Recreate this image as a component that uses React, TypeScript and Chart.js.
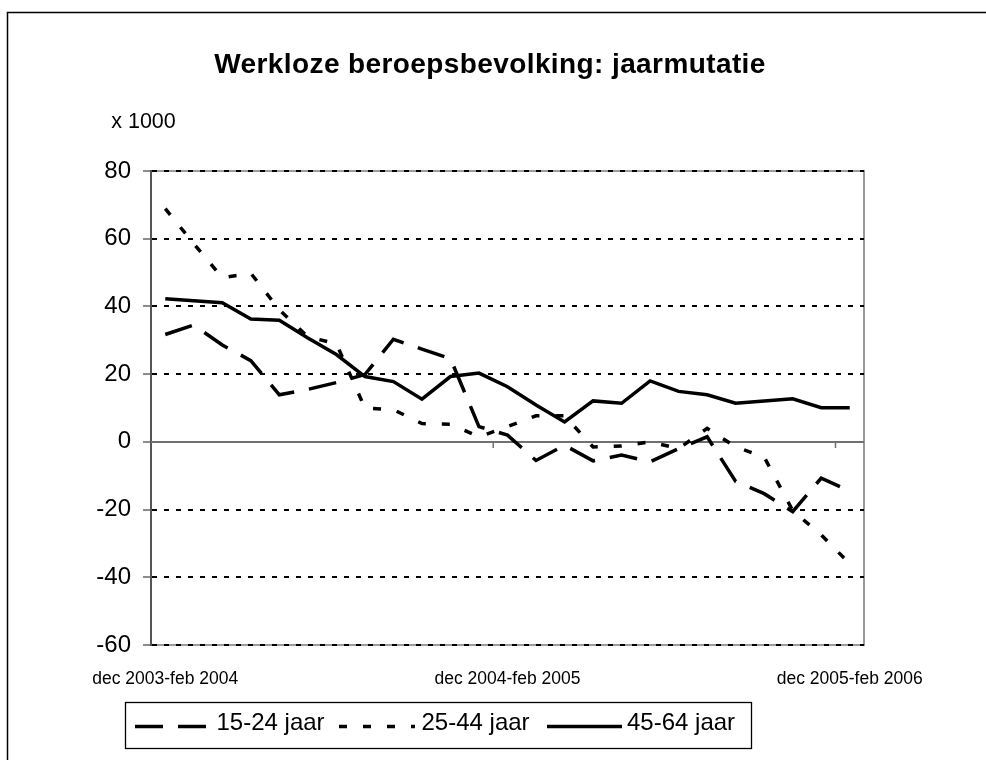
import React, { useEffect, useRef } from 'react';
import { Chart, registerables } from 'chart.js';

Chart.register(...registerables);

const chartTitle = 'Werkloze beroepsbevolking: jaarmutatie';
const unitLabel = 'x 1000';

const categories = [
  'dec 2003-feb 2004', 'jan-mrt 2004', 'feb-apr 2004', 'mrt-mei 2004', 'apr-jun 2004',
  'mei-jul 2004', 'jun-aug 2004', 'jul-sep 2004', 'aug-okt 2004', 'sep-nov 2004',
  'okt-dec 2004', 'nov 2004-jan 2005', 'dec 2004-feb 2005', 'jan-mrt 2005', 'feb-apr 2005',
  'mrt-mei 2005', 'apr-jun 2005', 'mei-jul 2005', 'jun-aug 2005', 'jul-sep 2005',
  'aug-okt 2005', 'sep-nov 2005', 'okt-dec 2005', 'nov 2005-jan 2006', 'dec 2005-feb 2006',
];

const seriesNames = ['15-24 jaar', '25-44 jaar', '45-64 jaar'];

const values1524 = [
  31.7, 34.5, 28.6, 24.0, 13.9, 15.5, 17.5, 19.9, 30.3, 27.4,
  24.6, 4.5, 2.0, -5.5, -1.0, -5.6, -3.9, -5.9, -2.0, 1.5,
  -11.7, -15.3, -20.6, -10.7, -14.5,
];

const values2544 = [
  68.9, 58.5, 48.5, 49.8, 39.0, 31.0, 29.0, 10.0, 9.5, 5.4,
  5.2, 1.5, 4.5, 7.7, 7.7, -1.5, -1.2, 0.0, -2.0, 4.0,
  -1.5, -4.5, -20.3, -27.5, -36.0,
];

const values4564 = [
  42.3, 41.7, 41.1, 36.3, 35.9, 30.7, 25.8, 19.3, 17.8, 12.6,
  19.3, 20.3, 16.3, 10.9, 5.9, 12.1, 11.4, 18.0, 14.9, 13.9,
  11.4, 12.1, 12.7, 10.1, 10.1,
];

const yMin = -60;
const yMax = 80;
const yStep = 20;
const labelEvery = 12;

const FONT = '"Liberation Sans", Arial, Helvetica, sans-serif';

const decorPlugin = {
  id: 'decor',
  beforeDraw(chart: any) {
    const { ctx, chartArea: a } = chart;
    ctx.save();
    // outer frame (left + top)
    ctx.strokeStyle = '#000';
    ctx.lineWidth = 1.5;
    ctx.beginPath();
    ctx.moveTo(7.5, 760);
    ctx.lineTo(7.5, 12.5);
    ctx.lineTo(986, 12.5);
    ctx.stroke();
    // plot area border
    ctx.strokeStyle = '#9a9a9a';
    ctx.lineWidth = 2;
    ctx.strokeRect(a.left, a.top, a.right - a.left, a.bottom - a.top);
    ctx.restore();
  },
  beforeDatasetsDraw(chart: any) {
    const { ctx, chartArea: a, scales } = chart;
    const x = scales.x;
    const y0 = Math.round(scales.y.getPixelForValue(0));
    ctx.save();
    ctx.strokeStyle = '#707070';
    ctx.lineWidth = 2;
    ctx.beginPath();
    ctx.moveTo(a.left, y0);
    ctx.lineTo(a.right, y0);
    ctx.stroke();
    // category tick marks on the zero axis
    const n = categories.length;
    const half = (x.getPixelForValue(1) - x.getPixelForValue(0)) / 2;
    ctx.lineWidth = 1.5;
    for (let i = labelEvery; i < n; i += labelEvery) {
      const px = x.getPixelForValue(i) - half;
      ctx.beginPath();
      ctx.moveTo(px, y0);
      ctx.lineTo(px, y0 + 6);
      ctx.stroke();
    }
    ctx.restore();
  },
  afterDraw(chart: any) {
    const { ctx } = chart;
    ctx.save();
    // title
    ctx.fillStyle = '#000';
    ctx.font = `bold 28px ${FONT}`;
    try { (ctx as any).letterSpacing = '0.4px'; } catch (e) { /* ignore */ }
    ctx.textAlign = 'center';
    ctx.textBaseline = 'middle';
    ctx.fillText(chartTitle, 490, 65.5);
    try { (ctx as any).letterSpacing = '0px'; } catch (e) { /* ignore */ }

    ctx.font = `21.5px ${FONT}`;
    ctx.fillText(unitLabel, 143.5, 122.5);

    // legend
    ctx.strokeStyle = '#000';
    ctx.lineWidth = 1.3;
    ctx.strokeRect(125.5, 702.5, 626, 46);
    const slots = [
      { x0: 135, x1: 207, tx: 216.5 },
      { x0: 339, x1: 415, tx: 421.5 },
      { x0: 547, x1: 622, tx: 627 },
    ];
    chart.data.datasets.forEach((ds: any, i: number) => {
      const s = slots[i];
      ctx.save();
      ctx.strokeStyle = ds.borderColor;
      ctx.lineWidth = ds.borderWidth;
      ctx.lineCap = 'butt';
      ctx.setLineDash(ds.borderDash || []);
      ctx.beginPath();
      ctx.moveTo(s.x0, 726.5);
      ctx.lineTo(s.x1, 726.5);
      ctx.stroke();
      ctx.restore();
      ctx.fillStyle = '#000';
      ctx.font = `24px ${FONT}`;
      ctx.textAlign = 'left';
      ctx.textBaseline = 'middle';
      ctx.fillText(ds.label, s.tx, 723.5);
    });
    ctx.restore();
  },
};

export default function App() {
  const ref = useRef<HTMLCanvasElement | null>(null);

  useEffect(() => {
    if (!ref.current) return;
    const chart = new Chart(ref.current, {
      type: 'line',
      data: {
        labels: categories,
        datasets: [
          {
            label: seriesNames[0],
            data: values1524,
            borderColor: '#000',
            borderWidth: 3.5,
            borderDash: [28, 15],
            pointRadius: 0,
            fill: false,
            tension: 0,
          },
          {
            label: seriesNames[1],
            data: values2544,
            borderColor: '#000',
            borderWidth: 3.5,
            borderDash: [8, 16],
            pointRadius: 0,
            fill: false,
            tension: 0,
          },
          {
            label: seriesNames[2],
            data: values4564,
            borderColor: '#000',
            borderWidth: 3.5,
            pointRadius: 0,
            fill: false,
            tension: 0,
          },
        ],
      },
      options: {
        responsive: false,
        animation: false,
        events: [],
        layout: { padding: { left: 0, right: 122, top: 171, bottom: 0 } },
        plugins: {
          legend: { display: false },
          tooltip: { enabled: false },
          title: { display: false },
        },
        scales: {
          x: {
            type: 'category',
            offset: true,
            grid: { display: false },
            border: { display: false },
            ticks: {
              autoSkip: false,
              maxRotation: 0,
              padding: 15.5,
              color: '#000',
              font: { family: FONT, size: 17.5 },
              callback: function (this: any, value: any, index: number) {
                return index % labelEvery === 0 ? this.getLabelForValue(value) : '';
              },
            },
            afterFit: (s: any) => {
              s.height = 115;
            },
          },
          y: {
            min: yMin,
            max: yMax,
            ticks: {
              stepSize: yStep,
              padding: 12,
              color: '#000',
              font: { family: FONT, size: 24 },
            },
            grid: {
              color: (c: any) => (c.tick && c.tick.value === 0 ? 'rgba(0,0,0,0)' : '#000'),
              lineWidth: 2,
              drawTicks: true,
              tickLength: 8,
              tickColor: '#666',
              tickWidth: 1.5,
              tickBorderDash: [],
            },
            border: { display: true, color: '#555', width: 2, dash: [5, 7] },
            afterFit: (s: any) => {
              s.width = 151;
            },
          },
        },
      },
      plugins: [decorPlugin],
    });
    return () => chart.destroy();
  }, []);

  return (
    <div style={{ position: 'absolute', left: 0, top: 0, width: 986, height: 760 }}>
      <canvas ref={ref} width={986} height={760} style={{ display: 'block' }} />
    </div>
  );
}
